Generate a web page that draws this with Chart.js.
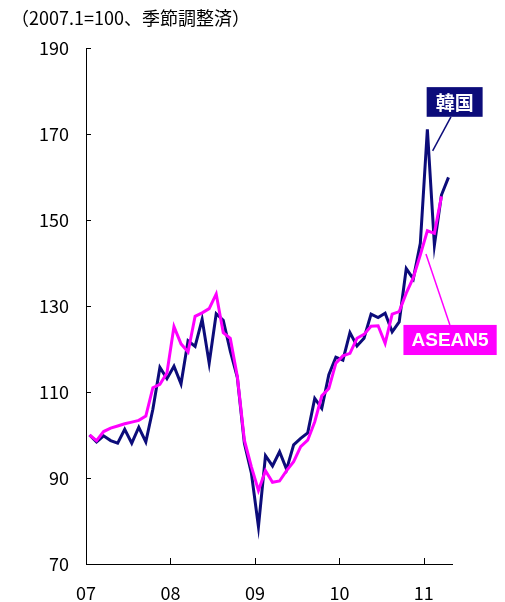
<!DOCTYPE html>
<html>
<head>
<meta charset="utf-8">
<script src="https://cdn.jsdelivr.net/npm/chart.js@4/dist/chart.umd.min.js"></script>
<style>
  html, body { margin: 0; padding: 0; background: #fff; }
  #wrap { width: 505px; height: 602px; position: relative; }
</style>
</head>
<body>
<div id="wrap"><canvas id="c" width="505" height="602"></canvas></div>
<script>
// Monthly index, 2007.1 = 100, seasonally adjusted (2007.1 - 2011.4)
const KOREA = [
  100.0, 98.4, 99.8, 98.7, 98.1, 101.3, 98.1, 101.8, 98.4, 106.0, 115.7, 113.1,
  116.0, 111.9, 121.9, 120.6, 126.9, 116.7, 128.2, 126.7, 119.5, 113.4, 98.1, 91.1,
  78.7, 95.2, 92.8, 96.1, 92.0, 97.7, 99.2, 100.5, 108.5, 106.2, 114.0, 118.1,
  117.4, 123.8, 120.7, 122.5, 128.1, 127.3, 128.3, 124.0, 126.3, 138.7, 136.3, 144.6,
  171.1, 144.2, 155.8, 159.9
];
const ASEAN5 = [
  100.0, 98.7, 100.8, 101.6, 102.1, 102.6, 103.0, 103.4, 104.4, 111.0, 111.8, 114.4,
  125.2, 121.2, 119.3, 127.6, 128.4, 129.4, 132.8, 123.8, 122.5, 113.6, 98.8, 92.6,
  87.1, 91.7, 89.0, 89.3, 91.7, 93.8, 97.3, 98.8, 103.1, 109.1, 110.8, 116.7,
  118.4, 119.0, 122.5, 123.4, 125.3, 125.4, 121.3, 128.1, 128.7, 133.0, 136.6, 141.9,
  147.5, 146.9, 155.5
];
const SERIES_NAMES = ['韓国', 'ASEAN5'];
const YEAR_LABELS = ['07', '08', '09', '10', '11'];
const YEAR_STARTS = [-0.5, 11.5, 23.5, 35.5, 47.5];   // month-index boundaries of each year
const Y_TICKS = [70, 90, 110, 130, 150, 170, 190];
const UNIT_NOTE = '（2007.1=100、季節調整済）';

const NAVY = '#0c0c7a';
const MAGENTA = '#ff00ff';
const FONT = "'Noto Sans CJK JP', 'Noto Sans', sans-serif";

const toPoints = arr => arr.map((v, i) => ({ x: i, y: v }));

// inward tick marks, unit note and callout labels
const decorations = {
  id: 'decorations',
  afterDraw(chart) {
    const { ctx, chartArea: a, scales: { x, y } } = chart;
    ctx.save();
    ctx.strokeStyle = '#000';
    ctx.lineWidth = 1;
    ctx.beginPath();
    Y_TICKS.forEach(v => {
      if (v === 70) return;
      const py = Math.round(y.getPixelForValue(v)) + 0.5;
      ctx.moveTo(a.left, py); ctx.lineTo(a.left + 5, py);
    });
    YEAR_STARTS.slice(1).forEach(v => {
      const px = Math.round(x.getPixelForValue(v)) + 0.5;
      ctx.moveTo(px, a.bottom); ctx.lineTo(px, a.bottom - 6);
    });
    ctx.stroke();

    // unit note
    ctx.fillStyle = '#000';
    ctx.font = '18px ' + FONT;
    ctx.textAlign = 'left';
    ctx.textBaseline = 'middle';
    ctx.fillText(UNIT_NOTE, 11, 18);

    // callouts
    const callout = (text, color, font, box, from, to) => {
      ctx.strokeStyle = color;
      ctx.lineWidth = 1.5;
      ctx.beginPath();
      ctx.moveTo(x.getPixelForValue(from[0]), y.getPixelForValue(from[1]));
      ctx.lineTo(x.getPixelForValue(to[0]), y.getPixelForValue(to[1]));
      ctx.stroke();
      const x0 = x.getPixelForValue(box[0]), y0 = y.getPixelForValue(box[1]);
      const x1 = x.getPixelForValue(box[2]), y1 = y.getPixelForValue(box[3]);
      ctx.fillStyle = color;
      ctx.fillRect(x0, y0, x1 - x0, y1 - y0);
      ctx.fillStyle = '#fff';
      ctx.font = font;
      ctx.textAlign = 'center';
      ctx.textBaseline = 'middle';
      ctx.fillText(text, (x0 + x1) / 2, (y0 + y1) / 2 + 1);
    };
    callout(SERIES_NAMES[0], NAVY, "bold 19px " + FONT,
      [47.9, 180.9, 55.85, 174.0], [51.35, 174.0], [48.75, 166.1]);
    callout(SERIES_NAMES[1], MAGENTA, "bold 19px 'Liberation Sans', Arial, sans-serif",
      [44.6, 125.6, 57.85, 118.6], [51.2, 125.6], [47.8, 142.1]);
    ctx.restore();
  }
};

new Chart(document.getElementById('c'), {
  type: 'line',
  data: {
    datasets: [
      {
        label: SERIES_NAMES[1], data: toPoints(ASEAN5), borderColor: MAGENTA,
        borderWidth: 3, pointRadius: 0, tension: 0, order: 0
      },
      {
        label: SERIES_NAMES[0], data: toPoints(KOREA), borderColor: NAVY,
        borderWidth: 3, pointRadius: 0, tension: 0, order: 1
      }
    ]
  },
  options: {
    responsive: false,
    animation: false,
    events: [],
    layout: { padding: { top: 48, right: 53, bottom: 0, left: 0 } },
    plugins: { legend: { display: false }, tooltip: { enabled: false } },
    scales: {
      x: {
        type: 'linear', min: -0.5, max: 51.5,
        grid: { display: false, drawTicks: false },
        border: { display: true, color: '#000', width: 1 },
        afterBuildTicks: s => { s.ticks = YEAR_STARTS.map(v => ({ value: v })); },
        afterFit: s => { s.height = 38; },
        ticks: {
          autoSkip: false, maxRotation: 0, padding: 18, color: '#000',
          font: { family: FONT, size: 18 },
          callback: (v, i) => YEAR_LABELS[i]
        }
      },
      y: {
        min: 70, max: 190,
        grid: { display: false, drawTicks: false },
        border: { display: true, color: '#000', width: 1 },
        afterBuildTicks: s => { s.ticks = Y_TICKS.map(v => ({ value: v })); },
        afterFit: s => { s.width = 86; },
        ticks: {
          padding: 17, color: '#000',
          font: { family: FONT, size: 18 }
        }
      }
    }
  },
  plugins: [decorations]
});
</script>
</body>
</html>
